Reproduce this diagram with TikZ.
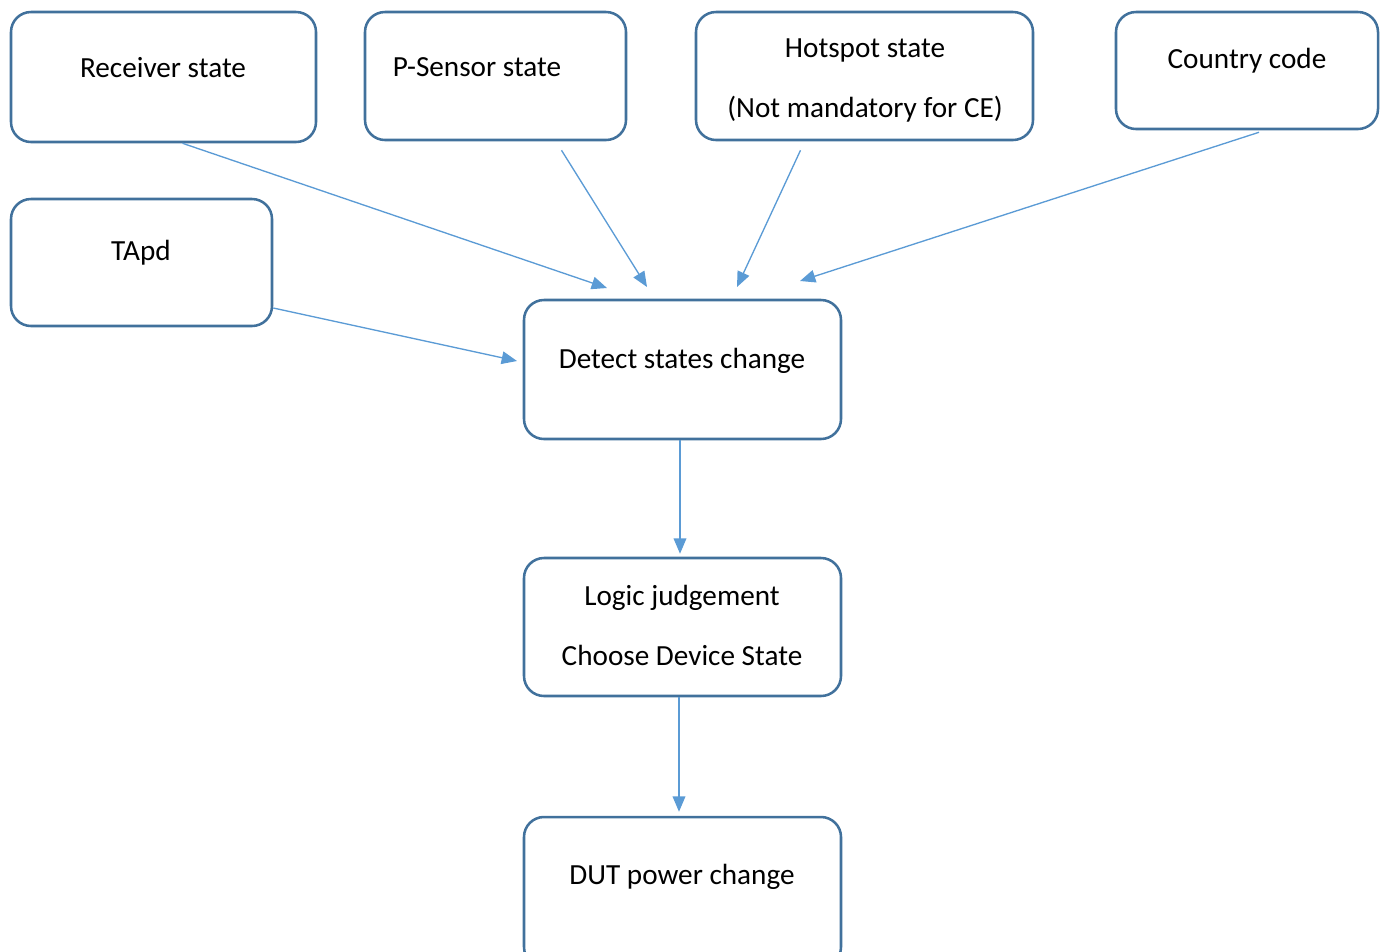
\documentclass[tikz,border=0pt]{standalone}
\usepackage{fontspec}
\setmainfont{Carlito}
\usetikzlibrary{arrows.meta}
\definecolor{boxc}{HTML}{41719C}
\definecolor{arrc}{HTML}{5B9BD5}
\begin{document}
\begin{tikzpicture}[x=0.75pt,y=-0.75pt,
  box/.style={draw=boxc,line width=1.9pt,rounded corners=15pt,inner sep=0pt},
  txt/.style={font=\fontsize{21.9}{45}\selectfont,align=center,inner sep=0pt,text=black},
  arr/.style={draw=arrc,line width=1pt,-{Triangle[length=11.5pt,width=9.5pt]}}]
\useasboundingbox (0,0) rectangle (1381,951);
% boxes
\node[box,minimum width=305*0.75pt,minimum height=130*0.75pt] (recv) at (163.5,77) {};
\node[box,minimum width=261*0.75pt,minimum height=128*0.75pt] (psen) at (495.5,76) {};
\node[box,minimum width=337*0.75pt,minimum height=128*0.75pt] (hot) at (864.5,76) {};
\node[box,minimum width=262*0.75pt,minimum height=117*0.75pt] (cc) at (1247,70.5) {};
\node[box,minimum width=261*0.75pt,minimum height=127*0.75pt] (tapd) at (141.5,262.5) {};
\node[box,minimum width=317*0.75pt,minimum height=139*0.75pt] (det) at (682.5,369.5) {};
\node[box,minimum width=317*0.75pt,minimum height=138*0.75pt] (logic) at (682.5,627) {};
\node[box,minimum width=317*0.75pt,minimum height=150*0.75pt] (dut) at (682.5,892) {};
% texts
\node[txt] (trecv) at (163,68) {Receiver state};
\node[txt] (tpsen) at (477,67) {P-Sensor state};
\node[txt] (thot) at (865,80) {Hotspot state\\(Not mandatory for CE)};
\node[txt] (tcc) at (1247,61) {Country code};
\node[txt] (ttapd) at (141,253) {TApd};
\node[txt] (tdet) at (682,361) {Detect states change};
\node[txt] (tlogic) at (682,625) {Logic judgement\\Choose Device State};
\node[txt] (tdut) at (682,877) {DUT power change};
% arrow ends
\coordinate (e1) at (607,288);
\coordinate (e2) at (647,287);
\coordinate (e3) at (737,287);
\coordinate (e4) at (800,281);
\coordinate (e5) at (517,361);
\draw[arr] ([xshift=19*0.75pt]recv.south) -- (e1);
\draw[arr] ([xshift=66*0.75pt,yshift=-9*0.75pt]psen.south) -- (e2);
\draw[arr] ([xshift=-64*0.75pt,yshift=-9*0.75pt]hot.south) -- (e3);
\draw[arr] ([xshift=12*0.75pt,yshift=-2*0.75pt]cc.south) -- (e4);
\draw[arr] ([yshift=-45.5*0.75pt]tapd.east) -- (e5);
\draw[arr] ([xshift=-2.5*0.75pt]det.south) -- ([xshift=-2.5*0.75pt,yshift=3*0.75pt]logic.north);
\draw[arr] ([xshift=-3.5*0.75pt]logic.south) -- ([xshift=-3.5*0.75pt,yshift=4*0.75pt]dut.north);
\end{tikzpicture}
\end{document}
